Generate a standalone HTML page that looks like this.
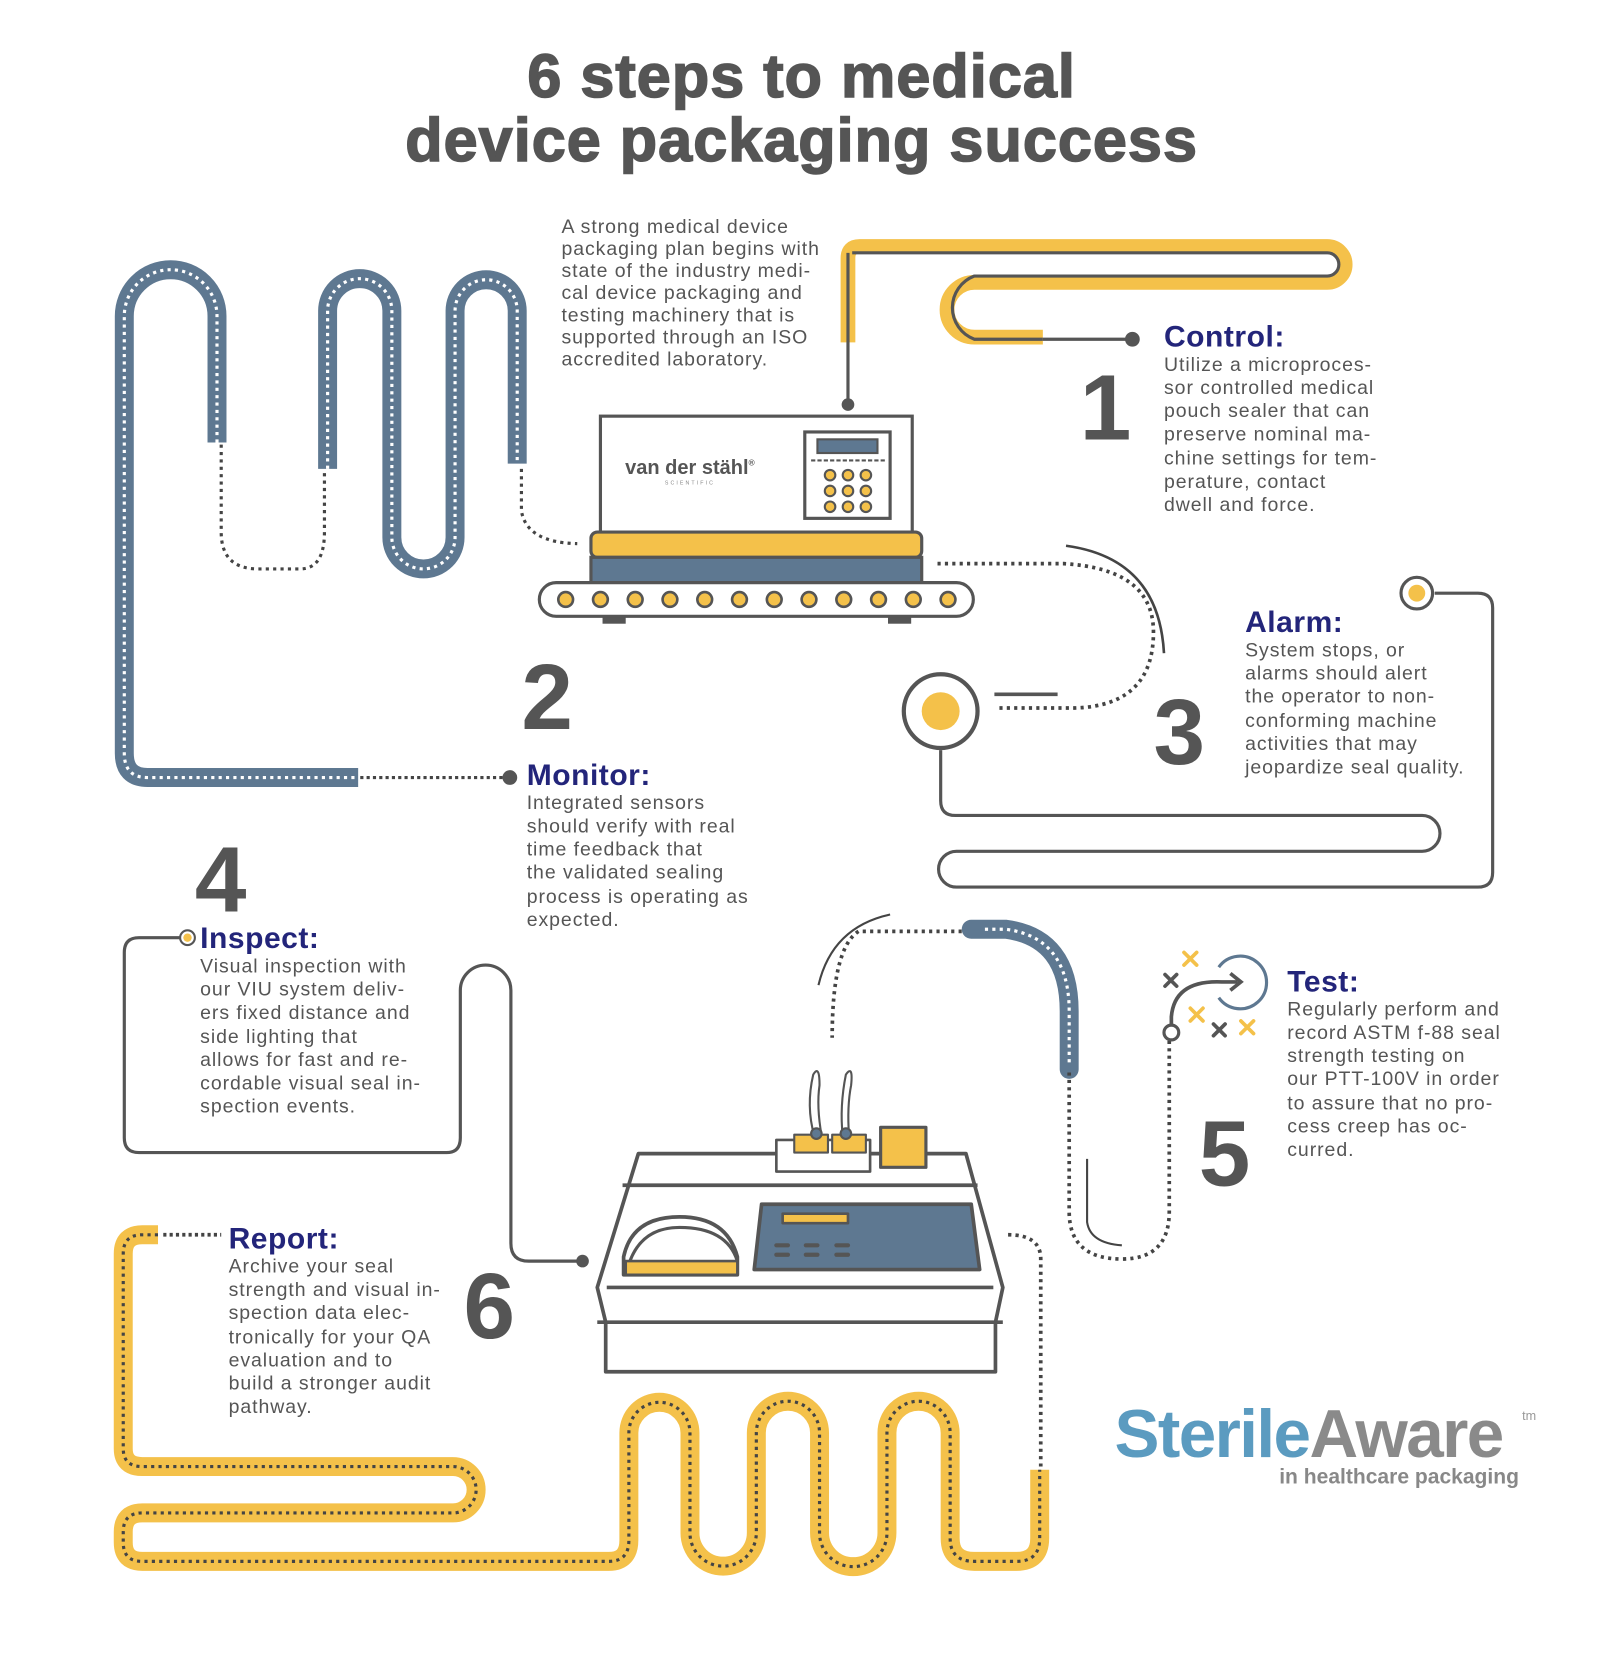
<!DOCTYPE html>
<html><head><meta charset="utf-8"><style>
html,body{margin:0;padding:0;background:#fff;}
svg{display:block;}
text{font-family:"Liberation Sans",sans-serif;}
.b{fill:#555;font-size:18.5px;letter-spacing:0.9px;}
.h{fill:#23257a;font-size:28.5px;font-weight:bold;letter-spacing:0.5px;}
.n{fill:#555;font-size:88px;font-weight:bold;}
</style></head><body>
<svg width="1618" height="1672" viewBox="0 0 1536 1587" preserveAspectRatio="none" xmlns="http://www.w3.org/2000/svg">
<rect width="1536" height="1587" fill="#fff"/>
<text x="761" y="92" text-anchor="middle" font-size="58" font-weight="bold" fill="#555" letter-spacing="1" stroke="#555" stroke-width="1.5">6 steps to medical</text>
<text x="761" y="153" text-anchor="middle" font-size="58" font-weight="bold" fill="#555" letter-spacing="1" stroke="#555" stroke-width="1.5">device packaging success</text>

<text x="533" y="221" class="b">A strong medical device</text>
<text x="533" y="242" class="b">packaging plan begins with</text>
<text x="533" y="263" class="b">state of the industry medi-</text>
<text x="533" y="284" class="b">cal device packaging and</text>
<text x="533" y="305" class="b">testing machinery that is</text>
<text x="533" y="326" class="b">supported through an ISO</text>
<text x="533" y="347" class="b">accredited laboratory.</text>

<path d="M805,325 V245 Q805,234 816,234 H1260 A17,17 0 0 1 1260,268 H925 A26,26 0 0 0 925,320 H990" fill="none" stroke="#f4c14a" stroke-width="14"/>
<path d="M809,240 H1260 A11,11 0 0 1 1260,262 H925 A32,32 0 0 0 925,322 H990" fill="none" stroke="#555" stroke-width="3"/>
<line x1="805" y1="240" x2="805" y2="384" stroke="#555" stroke-width="3"/>
<circle cx="805" cy="384" r="6" fill="#555"/>
<line x1="990" y1="322" x2="1075" y2="322" stroke="#555" stroke-width="3"/>
<circle cx="1075" cy="322" r="7" fill="#555"/>

<text x="1025" y="417" class="n">1</text>
<text x="1105" y="329" class="h">Control:</text>
<text x="1105" y="352" class="b">Utilize a microproces-</text>
<text x="1105" y="374" class="b">sor controlled medical</text>
<text x="1105" y="396" class="b">pouch sealer that can</text>
<text x="1105" y="418" class="b">preserve nominal ma-</text>
<text x="1105" y="441" class="b">chine settings for tem-</text>
<text x="1105" y="463" class="b">perature, contact</text>
<text x="1105" y="485" class="b">dwell and force.</text>

<g fill="none">
<path d="M206,420 V300 A44,44 0 0 0 118,300 V715 Q118,738 140,738 H340" stroke="#5e7891" stroke-width="18"/>
<path d="M206,420 V300 A44,44 0 0 0 118,300 V715 Q118,738 140,738 H340" stroke="#fff" stroke-width="3" stroke-dasharray="3 4"/>
<path d="M311,445 V295 A30.5,30.5 0 0 1 372,295 V510 A30,30 0 0 0 432,510 V295 A29.5,29.5 0 0 1 491,295 V440" stroke="#5e7891" stroke-width="18"/>
<path d="M311,445 V295 A30.5,30.5 0 0 1 372,295 V510 A30,30 0 0 0 432,510 V295 A29.5,29.5 0 0 1 491,295 V440" stroke="#fff" stroke-width="3" stroke-dasharray="3 4"/>
<path d="M210,422 V505 Q210,540 245,540 H285 Q308,540 308,505 V448" stroke="#444" stroke-width="3" stroke-dasharray="3 4"/>
<path d="M495,445 V485 Q500,515 548,516" stroke="#444" stroke-width="3" stroke-dasharray="3 4"/>
<path d="M342,738 H480" stroke="#444" stroke-width="3" stroke-dasharray="3 3"/>
</g>
<circle cx="484" cy="738" r="7" fill="#555"/>

<rect x="570" y="395" width="296" height="112" fill="#fff" stroke="#555" stroke-width="3"/>
<text x="655" y="450" text-anchor="middle" font-size="19" font-weight="bold" fill="#555">van der stähl<tspan font-size="8" dy="-8">®</tspan></text>
<text x="655" y="460" text-anchor="middle" font-size="5" fill="#888" letter-spacing="2">SCIENTIFIC</text>
<rect x="764" y="410" width="81" height="82" fill="#fff" stroke="#555" stroke-width="3"/>
<rect x="776" y="417" width="57" height="13" fill="#5e7891" stroke="#555" stroke-width="2"/>
<line x1="770" y1="437" x2="840" y2="437" stroke="#555" stroke-width="2" stroke-dasharray="4 2"/>
<g fill="#f4c14a" stroke="#555" stroke-width="2">
<circle cx="788" cy="451" r="5"/><circle cx="805" cy="451" r="5"/><circle cx="822" cy="451" r="5"/>
<circle cx="788" cy="466" r="5"/><circle cx="805" cy="466" r="5"/><circle cx="822" cy="466" r="5"/>
<circle cx="788" cy="481" r="5"/><circle cx="805" cy="481" r="5"/><circle cx="822" cy="481" r="5"/>
</g>
<rect x="561" y="505" width="314" height="24" rx="6" fill="#f4c14a" stroke="#555" stroke-width="3"/>
<rect x="561" y="529" width="314" height="25" fill="#5e7891" stroke="#555" stroke-width="3"/>
<rect x="512" y="553" width="412" height="32" rx="16" fill="#fff" stroke="#555" stroke-width="3"/>
<g fill="#f4c14a" stroke="#555" stroke-width="2.5">
<circle cx="537" cy="569" r="7"/><circle cx="570" cy="569" r="7"/><circle cx="603" cy="569" r="7"/><circle cx="636" cy="569" r="7"/><circle cx="669" cy="569" r="7"/><circle cx="702" cy="569" r="7"/><circle cx="735" cy="569" r="7"/><circle cx="768" cy="569" r="7"/><circle cx="801" cy="569" r="7"/><circle cx="834" cy="569" r="7"/><circle cx="867" cy="569" r="7"/><circle cx="900" cy="569" r="7"/>
</g>
<rect x="572" y="586" width="22" height="6" fill="#555"/><rect x="843" y="586" width="22" height="6" fill="#555"/>

<text x="495" y="692" class="n">2</text>
<text x="500" y="745" class="h">Monitor:</text>
<text x="500" y="768" class="b">Integrated sensors</text>
<text x="500" y="790" class="b">should verify with real</text>
<text x="500" y="812" class="b">time feedback that</text>
<text x="500" y="834" class="b">the validated sealing</text>
<text x="500" y="857" class="b">process is operating as</text>
<text x="500" y="879" class="b">expected.</text>

<path d="M890,535 H1010 Q1095,540 1095,600 Q1095,670 1020,672 H945" fill="none" stroke="#444" stroke-width="3.5" stroke-dasharray="3 4"/>
<path d="M1012,518 Q1100,530 1105,620" fill="none" stroke="#444" stroke-width="2.5"/>
<circle cx="893" cy="675" r="35" fill="#fff" stroke="#555" stroke-width="4"/>
<circle cx="893" cy="675" r="18" fill="#f4c14a"/>
<line x1="944" y1="659" x2="1004" y2="659" stroke="#555" stroke-width="3.5"/>
<path d="M893,712 V760 Q893,774 907,774 H1350 A17,17 0 0 1 1350,808 H908 A17,17 0 0 0 908,842 H1403 Q1417,842 1417,828 V577 Q1417,563 1403,563 H1362" fill="none" stroke="#555" stroke-width="3"/>
<circle cx="1345" cy="563" r="15" fill="#fff" stroke="#555" stroke-width="3"/>
<circle cx="1345" cy="563" r="8" fill="#f4c14a"/>
<text x="1095" y="725" class="n">3</text>
<text x="1182" y="600" class="h">Alarm:</text>
<text x="1182" y="623" class="b">System stops, or</text>
<text x="1182" y="645" class="b">alarms should alert</text>
<text x="1182" y="667" class="b">the operator to non-</text>
<text x="1182" y="690" class="b">conforming machine</text>
<text x="1182" y="712" class="b">activities that may</text>
<text x="1182" y="734" class="b">jeopardize seal quality.</text>

<text x="185" y="865" class="n">4</text>
<path d="M172,890 H132 Q118,890 118,904 V1080 Q118,1094 132,1094 H424 Q437,1094 437,1080 V940 A24,24 0 0 1 485,940 V1180 Q485,1197 502,1197 H553" fill="none" stroke="#555" stroke-width="3"/>
<circle cx="553" cy="1197" r="6" fill="#555"/>
<circle cx="178" cy="890" r="7" fill="#fff" stroke="#555" stroke-width="2"/>
<circle cx="178" cy="890" r="4" fill="#f4c14a"/>
<text x="190" y="900" class="h">Inspect:</text>
<text x="190" y="923" class="b">Visual inspection with</text>
<text x="190" y="945" class="b">our VIU  system deliv-</text>
<text x="190" y="967" class="b">ers fixed distance and</text>
<text x="190" y="990" class="b">side lighting that</text>
<text x="190" y="1012" class="b">allows for fast and re-</text>
<text x="190" y="1034" class="b">cordable visual seal in-</text>
<text x="190" y="1056" class="b">spection events.</text>

<path d="M920,884 H815 Q790,900 790,985" fill="none" stroke="#444" stroke-width="3.5" stroke-dasharray="3 4"/>
<path d="M845,868 Q790,880 777,935" fill="none" stroke="#444" stroke-width="2"/>
<path d="M922,882 H955 Q1015,890 1015,960 V1015" fill="none" stroke="#5e7891" stroke-width="18" stroke-linecap="round"/>
<path d="M935,882 H955 Q1015,890 1015,960 V1010" fill="none" stroke="#fff" stroke-width="3" stroke-dasharray="3 4"/>
<path d="M1015,1018 V1150 Q1015,1195 1065,1195 Q1110,1195 1110,1150 V985" fill="none" stroke="#444" stroke-width="3.5" stroke-dasharray="3 4"/>
<path d="M1032,1100 V1160 Q1035,1180 1065,1182" fill="none" stroke="#444" stroke-width="2"/>
<circle cx="1112" cy="980" r="7" fill="#fff" stroke="#555" stroke-width="3"/>
<path d="M1112,973 V965 Q1115,930 1160,932 H1175" fill="none" stroke="#555" stroke-width="3.5"/>
<path d="M1168,924 L1178,932 L1168,940" fill="none" stroke="#555" stroke-width="3.5"/>
<path d="M1157,918 A25,25 0 1 1 1157,947" fill="none" stroke="#5e7891" stroke-width="3"/>
<g stroke-width="3.5" stroke-linecap="round">
<path d="M1124,904 L1136,916 M1136,904 L1124,916" stroke="#f4c14a"/>
<path d="M1106,925 L1117,936 M1117,925 L1106,936" stroke="#555"/>
<path d="M1130,957 L1142,969 M1142,957 L1130,969" stroke="#f4c14a"/>
<path d="M1152,972 L1163,983 M1163,972 L1152,983" stroke="#555"/>
<path d="M1178,969 L1190,981 M1190,969 L1178,981" stroke="#f4c14a"/>
</g>
<text x="1138" y="1125" class="n">5</text>
<text x="1222" y="941" class="h">Test:</text>
<text x="1222" y="964" class="b">Regularly perform and</text>
<text x="1222" y="986" class="b">record ASTM f-88 seal</text>
<text x="1222" y="1008" class="b">strength testing on</text>
<text x="1222" y="1030" class="b">our PTT-100V in order</text>
<text x="1222" y="1053" class="b">to assure that no pro-</text>
<text x="1222" y="1075" class="b">cess creep has oc-</text>
<text x="1222" y="1097" class="b">curred.</text>

<g stroke="#555" stroke-width="3.5" stroke-linejoin="round">
<path d="M606,1095 H917 L952,1222 L945,1255 V1302 H575 V1255 L567,1222 Z" fill="#fff"/>
<line x1="591" y1="1125" x2="928" y2="1125"/>
<line x1="576" y1="1222" x2="943" y2="1222"/>
<line x1="567" y1="1255" x2="952" y2="1255"/>
<path d="M592,1210 V1193 Q600,1155 645,1155 Q690,1155 700,1193 V1210 Z" fill="#fff"/>
<path d="M598,1197 Q610,1165 645,1165 Q690,1165 700,1197" fill="none" stroke-width="3"/>
<rect x="594" y="1197" width="106" height="13" fill="#f4c14a" stroke-width="2.5"/>
<path d="M723,1143 H922 L930,1205 H716 Z" fill="#5e7891"/>
<rect x="743" y="1152" width="62" height="9" fill="#f4c14a" stroke-width="2.5"/>
<rect x="836" y="1070" width="43" height="38" fill="#f4c14a" stroke-width="3"/>
<path d="M737,1082 H826 V1112 H737 Z" fill="#fff" stroke-width="2.5"/>
<rect x="754" y="1077" width="32" height="17" fill="#f4c14a" stroke-width="2"/>
<rect x="790" y="1077" width="32" height="17" fill="#f4c14a" stroke-width="2"/>
</g>
<g stroke="#555" stroke-width="2" fill="none">
<path d="M773,1078 Q765,1050 772,1020 Q778,1010 778,1030 Q775,1050 780,1078"/>
<path d="M800,1078 Q797,1050 803,1020 Q810,1010 808,1030 Q804,1050 806,1078"/>
</g>
<circle cx="775" cy="1076" r="5" fill="#5e7891" stroke="#555" stroke-width="2"/>
<circle cx="803" cy="1076" r="5" fill="#5e7891" stroke="#555" stroke-width="2"/>
<g fill="#555"><rect x="735" y="1180" width="15" height="4" rx="2"/><rect x="763" y="1180" width="15" height="4" rx="2"/><rect x="792" y="1180" width="15" height="4" rx="2"/><rect x="735" y="1189" width="15" height="4" rx="2"/><rect x="763" y="1189" width="15" height="4" rx="2"/><rect x="792" y="1189" width="15" height="4" rx="2"/></g>

<path d="M957,1172 Q988,1172 988,1195 V1392" fill="none" stroke="#444" stroke-width="3.5" stroke-dasharray="3 4"/>

<path d="M150,1172 H135 Q117,1172 117,1190 V1375 Q117,1392 135,1392 H430 A22,22 0 0 1 430,1436 H135 Q117,1436 117,1454 V1464 Q117,1482 135,1482 H578 Q597,1482 597,1462 V1360 A29,29 0 0 1 655,1360 V1455 A31.5,31.5 0 0 0 718,1455 V1360 A30,30 0 0 1 778,1360 V1455 A32,32 0 0 0 842,1455 V1360 A30,30 0 0 1 902,1360 V1460 Q902,1482 925,1482 H965 Q987,1482 987,1460 V1395" fill="none" stroke="#f4c14a" stroke-width="18" stroke-linejoin="round"/>
<path d="M150,1172 H135 Q117,1172 117,1190 V1375 Q117,1392 135,1392 H430 A22,22 0 0 1 430,1436 H135 Q117,1436 117,1454 V1464 Q117,1482 135,1482 H578 Q597,1482 597,1462 V1360 A29,29 0 0 1 655,1360 V1455 A31.5,31.5 0 0 0 718,1455 V1360 A30,30 0 0 1 778,1360 V1455 A32,32 0 0 0 842,1455 V1360 A30,30 0 0 1 902,1360 V1460 Q902,1482 925,1482 H965 Q987,1482 987,1460 V1395" fill="none" stroke="#444" stroke-width="3" stroke-dasharray="3 4"/>
<path d="M155,1172 H210" fill="none" stroke="#444" stroke-width="3.5" stroke-dasharray="3 3"/>

<text x="440" y="1270" class="n">6</text>
<text x="217" y="1185" class="h">Report:</text>
<text x="217" y="1208" class="b">Archive your seal</text>
<text x="217" y="1230" class="b">strength and visual in-</text>
<text x="217" y="1252" class="b">spection data elec-</text>
<text x="217" y="1275" class="b">tronically for your QA</text>
<text x="217" y="1297" class="b">evaluation and to</text>
<text x="217" y="1319" class="b">build a stronger audit</text>
<text x="217" y="1341" class="b">pathway.</text>

<text x="1058" y="1383" font-size="64" font-weight="bold" letter-spacing="-1.5"><tspan fill="#5b9bc0">Sterile</tspan><tspan fill="#8a8a8a">Aware</tspan></text>
<text x="1445" y="1348" font-size="12" fill="#999">tm</text>
<text x="1442" y="1408" text-anchor="end" font-size="20" font-weight="bold" fill="#888">in healthcare packaging</text>
</svg>
</body></html>
